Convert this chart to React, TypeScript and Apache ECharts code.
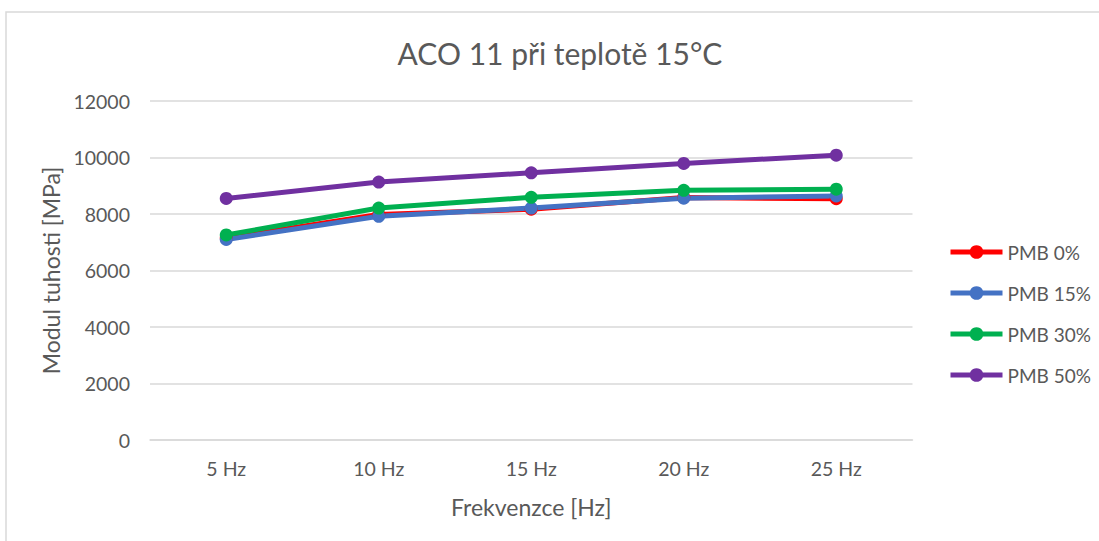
import React, { useEffect, useRef } from "react";
import * as echarts from "echarts";

const categories = ["5 Hz", "10 Hz", "15 Hz", "20 Hz", "25 Hz"];
const pmb0 = [7150, 7980, 8170, 8580, 8540];
const pmb15 = [7100, 7920, 8210, 8560, 8640];
const pmb30 = [7260, 8210, 8590, 8840, 8880];
const pmb50 = [8550, 9130, 9460, 9790, 10080];
const seriesNames = ["PMB 0%", "PMB 15%", "PMB 30%", "PMB 50%"];
const seriesColors = ["#FF0000", "#4472C4", "#00B050", "#7030A0"];
const yTicks = { min: 0, max: 12000, interval: 2000 };
const titleText = "ACO 11 při teplotě 15°C";

const FONT = "Lato";
const TXT = "#595959";

export default function App() {
  const ref = useRef<HTMLDivElement>(null);
  useEffect(() => {
    if (!ref.current) return;
    const chart = echarts.init(ref.current, null, { renderer: "svg" });
    const data = [pmb0, pmb15, pmb30, pmb50];
    chart.setOption({
      animation: false,
      backgroundColor: "#ffffff",
      textStyle: { fontFamily: FONT, color: TXT },
      graphic: [
        {
          type: "rect",
          shape: { x: 6, y: 12, width: 1200, height: 700 },
          style: { fill: "none", stroke: "#d9d9d9", lineWidth: 1.5 },
          silent: true,
        },
        {
          type: "text",
          x: 560,
          y: 53,
          silent: true,
          style: {
            text: titleText,
            fontFamily: FONT,
            fontSize: 30,
            fill: TXT,
            align: "center",
            verticalAlign: "middle",
          },
        },
      ],
      legend: {
        orient: "vertical",
        left: 948,
        top: 242,
        padding: 0,
        itemWidth: 52,
        itemHeight: 17,
        itemGap: 21,
        lineStyle: { width: 5 },
        textStyle: { fontFamily: FONT, fontSize: 19, color: TXT, lineHeight: 20 },
        data: seriesNames,
      },
      grid: { left: 150, top: 101, right: 186.5, bottom: 101, containLabel: false },
      xAxis: {
        type: "category",
        data: categories,
        boundaryGap: true,
        name: "Frekvenzce [Hz]",
        nameLocation: "middle",
        nameGap: 55,
        nameTextStyle: { fontFamily: FONT, fontSize: 23, color: TXT },
        axisLine: { lineStyle: { color: "#d9d9d9", width: 1.5 } },
        axisTick: { show: false },
        axisLabel: { fontFamily: FONT, fontSize: 19.5, color: TXT, margin: 18 },
      },
      yAxis: {
        type: "value",
        min: yTicks.min,
        max: yTicks.max,
        interval: yTicks.interval,
        name: "Modul tuhosti [MPa]",
        nameLocation: "middle",
        nameRotate: 90,
        nameGap: 85,
        nameTextStyle: { fontFamily: FONT, fontSize: 23, color: TXT },
        axisLine: { show: false },
        axisTick: { show: false },
        axisLabel: {
          fontFamily: FONT,
          fontSize: 19.5,
          color: TXT,
          margin: 20,
          formatter: (v: number) => String(v),
        },
        splitLine: { lineStyle: { color: "#d9d9d9", width: 1.5 } },
      },
      series: seriesNames.map((name, i) => ({
        name,
        type: "line",
        data: data[i],
        symbol: "circle",
        symbolSize: 13,
        lineStyle: { width: 5, color: seriesColors[i] },
        itemStyle: { color: seriesColors[i] },
      })),
    });
    return () => chart.dispose();
  }, []);
  return (
    <div
      ref={ref}
      style={{ position: "fixed", left: 0, top: 0, width: 1099, height: 541 }}
    />
  );
}
